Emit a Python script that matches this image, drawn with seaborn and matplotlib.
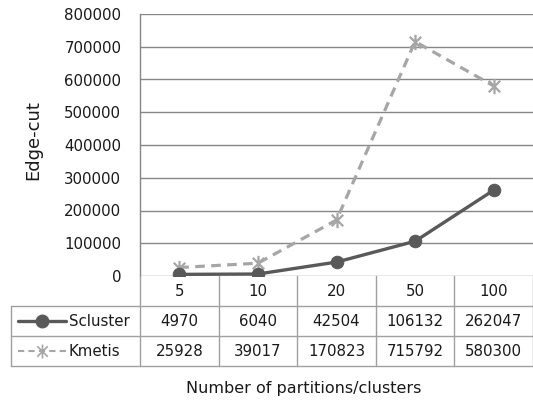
import matplotlib
matplotlib.use("Agg")
import matplotlib.pyplot as plt
import matplotlib.transforms as mtransforms
from matplotlib.lines import Line2D
from matplotlib.path import Path
import seaborn as sns
import pandas as pd

categories = ["5", "10", "20", "50", "100"]
scluster = [4970, 6040, 42504, 106132, 262047]
kmetis = [25928, 39017, 170823, 715792, 580300]
series_names = ["Scluster", "Kmetis"]
y_ticks = [0, 100000, 200000, 300000, 400000, 500000, 600000, 700000, 800000]

sns.set_style("white")
plt.rcParams["font.family"] = ["DejaVu Sans"]

W, H = 533, 404
fig = plt.figure(figsize=(W / 100, H / 100), dpi=100)

def fx(x):
    return x / W

def fy(y):
    return 1 - y / H

L, R, T, B = 140, 533, 14, 276
ax = fig.add_axes([fx(L), fy(B), (R - L) / W, (B - T) / H])

df_s = pd.DataFrame({"cat": categories, "val": scluster})
df_k = pd.DataFrame({"cat": categories, "val": kmetis})

star = Path([(0, -1), (0, 1), (-0.75, -0.75), (0.75, 0.75), (-0.75, 0.75), (0.75, -0.75)],
            [Path.MOVETO, Path.LINETO, Path.MOVETO, Path.LINETO, Path.MOVETO, Path.LINETO])

c_s = "#595959"
c_k = "#A6A6A6"
fs = 10.8
tcol = "#1a1a1a"
sns.lineplot(data=df_k, x="cat", y="val", ax=ax, color=c_k, lw=2.3,
             linestyle=(0, (3, 2)), marker=star, markersize=11,
             markeredgewidth=1.6, markeredgecolor=c_k, sort=False, zorder=3)
sns.lineplot(data=df_s, x="cat", y="val", ax=ax, color=c_s, lw=2.4,
             marker="o", markersize=9, markeredgecolor=c_s, sort=False, zorder=4)

ax.set_xlim(-0.5, 4.5)
ax.set_ylim(0, 800000)
ax.set_yticks(y_ticks)
ax.set_yticklabels([str(v) for v in y_ticks], fontsize=fs, color=tcol)
ax.tick_params(axis="y", length=0, pad=13.5)
ax.tick_params(axis="x", length=0, pad=6, labelsize=fs, labelcolor=tcol)
ax.set_xlabel("")
ax.set_ylabel("")
ax.grid(axis="y", color="#868686", lw=1)
ax.grid(axis="x", visible=False)
for s in ["top", "right", "bottom"]:
    ax.spines[s].set_visible(False)
ax.spines["left"].set_color("#868686")
ax.spines["left"].set_linewidth(1)

fig.text(fx(33), fy(140), "Edge-cut", rotation=90, ha="center", va="center",
         fontsize=13, color=tcol)
fig.text(fx(304), fy(389), "Number of partitions/clusters", ha="center",
         va="center", fontsize=11.5, color=tcol)

# data table
tc = "#A0A0A0"
bl = mtransforms.blended_transform_factory(ax.transData, fig.transFigure)
for i in range(len(categories) - 1):
    ax.add_line(Line2D([i + 0.5, i + 0.5], [fy(276), fy(366)], transform=bl,
                       color=tc, lw=1, clip_on=False))
ax.add_line(Line2D([4.5, 4.5], [fy(276), fy(366)], transform=bl,
                   color=tc, lw=1, clip_on=False))
fig.add_artist(Line2D([fx(L), fx(L)], [fy(276), fy(366)], color=tc, lw=1))
fig.add_artist(Line2D([fx(11), fx(11)], [fy(306), fy(366)], color=tc, lw=1))
for yy in [306, 336, 366]:
    fig.add_artist(Line2D([fx(11), fx(533)], [fy(yy), fy(yy)], color=tc, lw=1))

rows = [(scluster, 321), (kmetis, 351)]
for vals, yy in rows:
    for i, v in enumerate(vals):
        ax.text(i, fy(yy), str(v), transform=bl, ha="center", va="center",
                fontsize=fs, color=tcol)

# legend keys
fig.add_artist(Line2D([fx(18), fx(66)], [fy(321), fy(321)], color=c_s, lw=2.4))
fig.add_artist(Line2D([fx(42)], [fy(321)], color=c_s, marker="o", markersize=9,
                      markeredgecolor=c_s))
fig.add_artist(Line2D([fx(18), fx(66)], [fy(351), fy(351)], color=c_k, lw=1.5,
                      linestyle=(0, (3, 2))))
fig.add_artist(Line2D([fx(42)], [fy(351)], color=c_k, marker=star,
                      markersize=10, markeredgewidth=1.2, markeredgecolor=c_k))
fig.text(fx(69), fy(321), series_names[0], ha="left", va="center", fontsize=fs,
         color=tcol)
fig.text(fx(69), fy(351), series_names[1], ha="left", va="center", fontsize=fs,
         color=tcol)

fig.savefig("out.png", dpi=100)
